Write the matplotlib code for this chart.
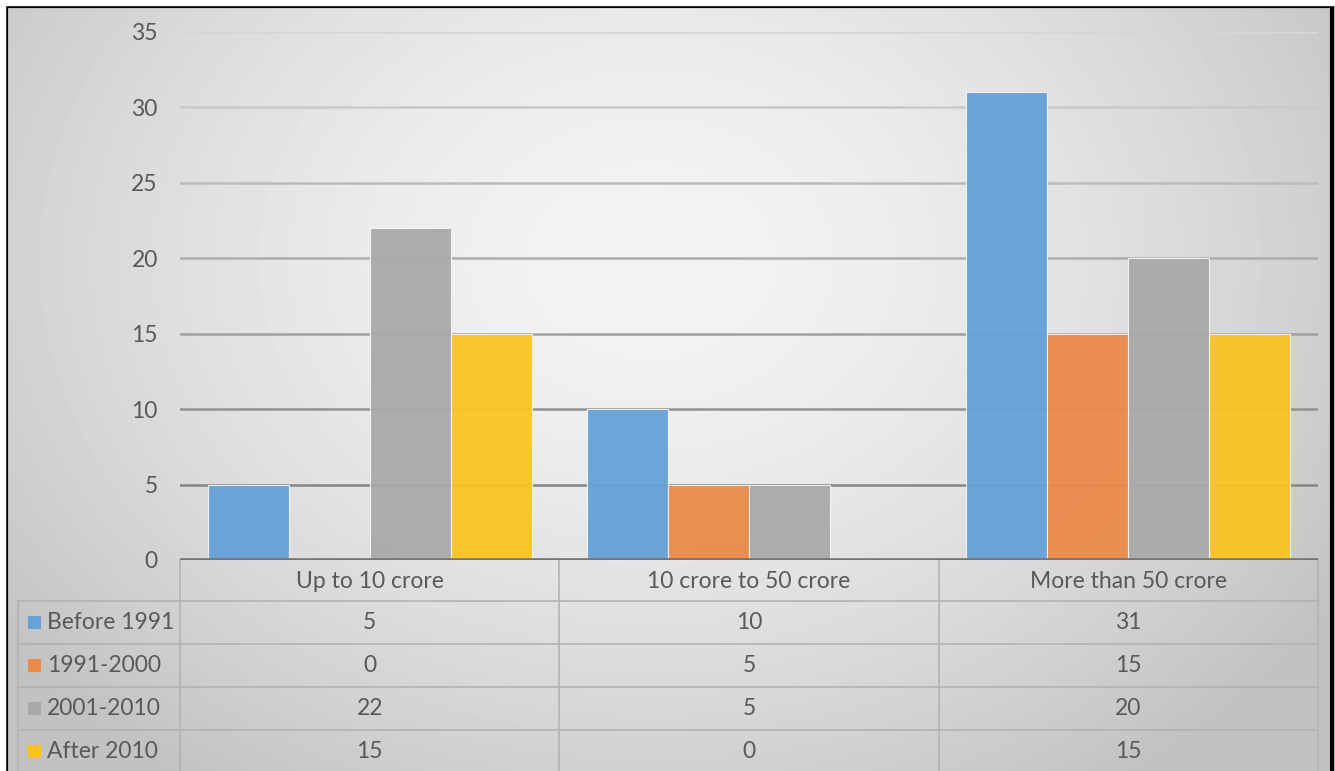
import matplotlib.pyplot as plt
from matplotlib.patches import Rectangle
import numpy as np

# Data
categories = ['Up to 10 crore', '10 crore to 50 crore', 'More than 50 crore']
series = ['Before 1991', '1991-2000', '2001-2010', 'After 2010']
before_1991 = [5, 10, 31]
y1991_2000 = [0, 5, 15]
y2001_2010 = [22, 5, 20]
after_2010 = [15, 0, 15]
values = [before_1991, y1991_2000, y2001_2010, after_2010]
colors = ['#66A1D8', '#EA8A48', '#A9A9A9', '#FCC322']

W, H = 1335, 771
plt.rcParams['font.family'] = ['Lato', 'DejaVu Sans']
txt = '#595959'
fs = 16.5

fig = plt.figure(figsize=(W / 100, H / 100), dpi=100)

# background layer in pixel coordinates (gradient, table, border)
bg = fig.add_axes([0, 0, 1, 1], zorder=0)
bg.set_xlim(0, W)
bg.set_ylim(H, 0)
bg.axis('off')

xx, yy = np.meshgrid(np.arange(W), np.arange(H))
r = np.sqrt(((xx - 650) / 720.0) ** 2 + ((yy - 260) / 560.0) ** 2)
shade = np.clip(0.955 - 0.16 * r ** 1.6, 0.76, 1)
bg.imshow(shade, cmap='gray', vmin=0, vmax=1, extent=(0, W, H, 0), aspect='auto', zorder=0)

# plot area
left, right, top, bottom = 180, 1318, 32, 560
ax = fig.add_axes([left / W, 1 - bottom / H, (right - left) / W, (bottom - top) / H], zorder=1)
ax.set_facecolor('none')
for s in ax.spines.values():
    s.set_visible(False)

x = np.arange(len(categories))
bw = 0.2135
for i, (name, vals) in enumerate(zip(series, values)):
    ax.bar(x + (i - 1.5) * bw, vals, bw, color=colors[i], edgecolor='#f4f4f4',
           linewidth=0.8, alpha=0.95, zorder=2, label=name)

ax.set_xlim(-0.5, len(categories) - 0.5)
ax.set_ylim(0, 35)
yticks = np.arange(0, 36, 5)
ax.set_yticks(yticks)
ax.set_yticklabels([str(t) for t in yticks], fontsize=fs, color=txt)
ax.tick_params(axis='y', length=0, pad=16)
ax.set_xticks([])

# gridlines, darker toward the base
for t in yticks[1:]:
    g = 0.84 - 0.32 * (35 - t) / 30
    ax.axhline(t, color=str(g), lw=1.8, zorder=1)
ax.axhline(0, color='#747474', lw=2.6, zorder=3)

# data table under the chart
cat_edges = [left + (right - left) * k / len(categories) for k in range(len(categories) + 1)]
row_top = [bottom, 601, 644, 687, 730, 773]
line_c = '#b0b0b0'
for yv in row_top[1:-1]:
    bg.plot([18, right], [yv, yv], color=line_c, lw=1.1, zorder=2)
for xv in cat_edges:
    bg.plot([xv, xv], [bottom, H], color=line_c, lw=1.1, zorder=2)
bg.plot([18, 18], [row_top[1], H], color=line_c, lw=1.1, zorder=2)

for k, cat in enumerate(categories):
    cx = (cat_edges[k] + cat_edges[k + 1]) / 2
    bg.text(cx, (row_top[0] + row_top[1]) / 2 + 1, cat, ha='center', va='center',
            fontsize=fs, color=txt, zorder=3)

for i, (name, vals) in enumerate(zip(series, values)):
    cy = (row_top[i + 1] + row_top[i + 2]) / 2
    bg.add_patch(Rectangle((28, cy - 6.5), 13, 13, facecolor=colors[i], edgecolor='none', zorder=3))
    bg.text(47, cy, name, ha='left', va='center', fontsize=fs, color=txt, zorder=3)
    for k, v in enumerate(vals):
        cx = (cat_edges[k] + cat_edges[k + 1]) / 2
        bg.text(cx, cy, str(v), ha='center', va='center', fontsize=fs, color=txt, zorder=3)

# frame
bg.plot([6, 6], [6, H], color='black', lw=3, zorder=4, solid_capstyle='projecting')
bg.plot([6, 1332], [6, 6], color='black', lw=3, zorder=4, solid_capstyle='projecting')
bg.plot([1332, 1332], [6, H], color='black', lw=3, zorder=4, solid_capstyle='projecting')
bg.fill_between([0, W], 0, 4.5, color='white', zorder=4)
bg.fill_between([0, 4.5], 0, H, color='white', zorder=4)

fig.savefig('out.png', dpi=100)
